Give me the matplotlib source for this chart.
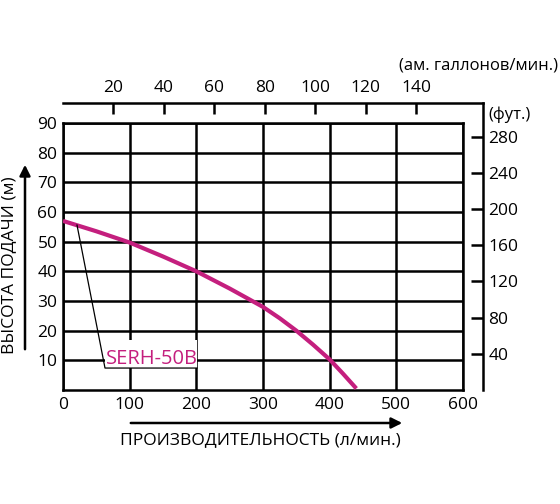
import numpy as np
import matplotlib
matplotlib.use('Agg')
import matplotlib.pyplot as plt
from matplotlib.patches import Rectangle

plt.rcParams['font.family'] = ['Open Sans', 'DejaVu Sans']

# pump curve SERH-50B
flow_lpm = [0, 50, 100, 150, 200, 250, 300, 325, 350, 375, 400, 420, 440]
head_m = [57, 53.5, 49.7, 45.0, 40, 34.2, 28.0, 24.2, 20.0, 15.3, 10.3, 5.5, 0.5]

x_ticks = [0, 100, 200, 300, 400, 500, 600]
y_ticks = [10, 20, 30, 40, 50, 60, 70, 80, 90]
gal_ticks = [20, 40, 60, 80, 100, 120, 140]
ft_ticks = [40, 80, 120, 160, 200, 240, 280]

LPG = 3.785   # l per US gallon
FT = 3.281    # ft per m
magenta = '#c41f7e'
W, H = 560, 504

fig = plt.figure(figsize=(5.6, 5.04), dpi=100)

# outer frame: gallons on top, feet on the right
ax2 = fig.add_axes([63 / W, (H - 390) / H, 420 / W, 287 / H])
ax2.set_facecolor('none')
ax2.set_xlim(0, 630 / LPG)
ax2.set_ylim(0, 96.74 * FT)
for s in ['bottom', 'left']:
    ax2.spines[s].set_visible(False)
for s in ['top', 'right']:
    ax2.spines[s].set_linewidth(1.8)
ax2.xaxis.tick_top()
ax2.yaxis.tick_right()
ax2.set_xticks(gal_ticks)
ax2.set_yticks(ft_ticks)
ax2.tick_params(axis='x', direction='in', length=8, width=1.8, pad=5, labelsize=12.5)
ax2.tick_params(axis='y', direction='in', length=9, width=1.8, pad=4, labelsize=12.5)

# main grid, l/min vs m
ax = fig.add_axes([63 / W, (H - 390) / H, 400 / W, 267 / H])
ax.set_xlim(0, 600)
ax.set_ylim(0, 90)
ax.set_xticks(x_ticks)
ax.set_yticks(y_ticks)
ax.tick_params(length=0, labelsize=12.5)
ax.tick_params(axis='y', pad=4)
ax.tick_params(axis='x', pad=5)
ax.grid(True, color='k', lw=1.8)
ax.set_axisbelow(True)
for s in ax.spines.values():
    s.set_linewidth(1.8)

ax.plot(flow_lpm, head_m, color=magenta, lw=3, zorder=3,
        solid_capstyle='butt', solid_joinstyle='round')

# label box with callout
ax.add_patch(Rectangle((63, 7.4), 138, 9.4, facecolor='white', edgecolor='none', zorder=2))
ax.plot([21, 63, 201], [55.6, 7.4, 7.4], color='k', lw=0.9, zorder=3)
ax.text(65, 8.9, 'SERH-50B', color=magenta, fontsize=14.5, va='baseline', zorder=4)

# axis titles and arrows
ax.annotate('', xy=(25, H - 162), xytext=(25, H - 352), xycoords='figure pixels',
            arrowprops=dict(arrowstyle='-|>', lw=1.8, color='k', mutation_scale=16))
fig.text(9 / W, 1 - 265 / H, 'ВЫСОТА ПОДАЧИ (м)', rotation=90, fontsize=12.5,
         ha='center', va='center')
ax.annotate('', xy=(405, H - 423), xytext=(128, H - 423), xycoords='figure pixels',
            arrowprops=dict(arrowstyle='-|>', lw=1.8, color='k', mutation_scale=16))
fig.text(260 / W, 1 - 440 / H, 'ПРОИЗВОДИТЕЛЬНОСТЬ (л/мин.)', fontsize=12.5,
         ha='center', va='center')
fig.text(558 / W, 1 - 65 / H, '(ам. галлонов/мин.)', fontsize=12,
         ha='right', va='center')
fig.text(488 / W, 1 - 115 / H, '(фут.)', fontsize=12, ha='left', va='center')

plt.savefig('out.png', dpi=100)
